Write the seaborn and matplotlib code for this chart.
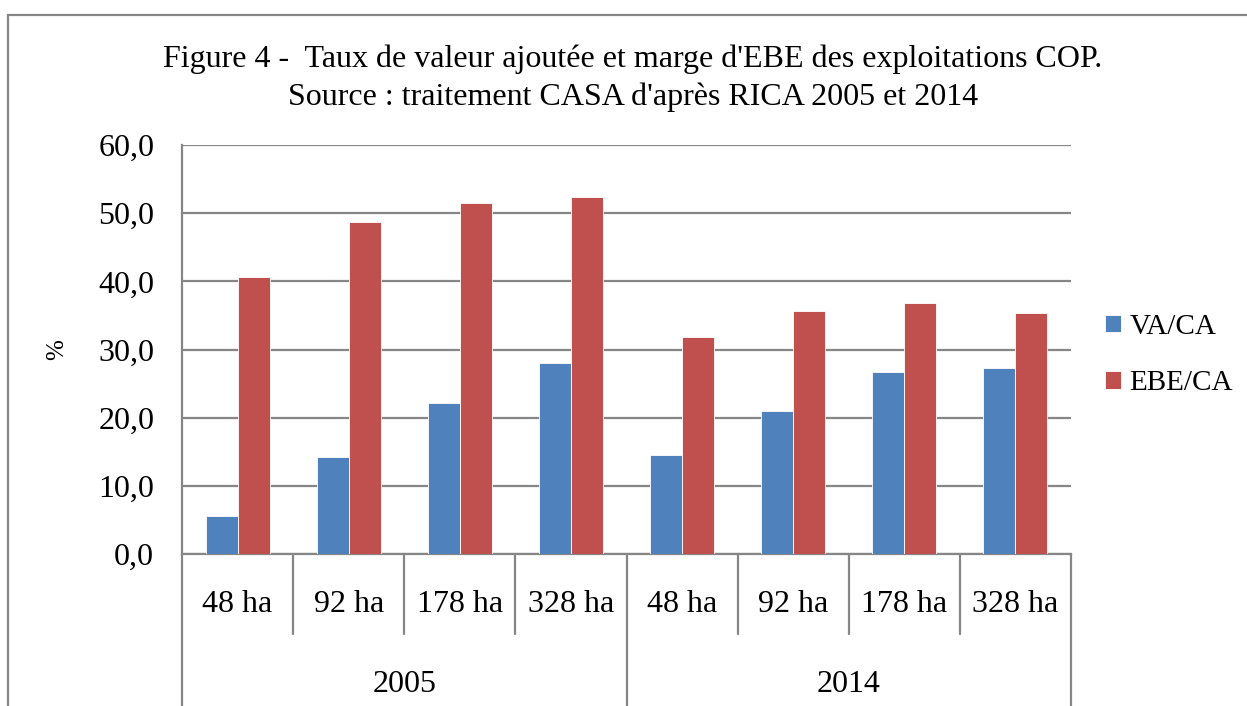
import matplotlib
matplotlib.use("Agg")
import matplotlib.pyplot as plt
import matplotlib.transforms as mtransforms
from matplotlib.patches import Rectangle
import seaborn as sns
import pandas as pd

years = ["2005", "2014"]
sizes = ["48 ha", "92 ha", "178 ha", "328 ha"]
series = ["VA/CA", "EBE/CA"]
va_ca = [5.6, 14.2, 22.1, 28.0, 14.5, 21.0, 26.7, 27.3]
ebe_ca = [40.7, 48.7, 51.5, 52.3, 31.8, 35.7, 36.8, 35.3]
yticks = [0, 10, 20, 30, 40, 50, 60]
ytick_labels = ["0,0", "10,0", "20,0", "30,0", "40,0", "50,0", "60,0"]
title = ("Figure 4 -  Taux de valeur ajoutée et marge d'EBE des exploitations COP.\n"
         "Source : traitement CASA d'après RICA 2005 et 2014")

colors = {"VA/CA": "#4F81BD", "EBE/CA": "#C0504D"}
grid_col = "#868686"

keys = [f"{y}|{s}" for y in years for s in sizes]
df = pd.DataFrame({
    "key": keys * 2,
    "serie": [series[0]] * len(keys) + [series[1]] * len(keys),
    "value": va_ca + ebe_ca,
})

sns.set_style("white")
plt.rcParams["font.family"] = ["Liberation Serif", "DejaVu Serif"]
plt.rcParams["text.color"] = "black"
plt.rcParams["axes.labelcolor"] = "black"
plt.rcParams["ytick.labelcolor"] = "black"

fig = plt.figure(figsize=(12.47, 7.06), dpi=100)
ax = fig.add_axes([182 / 1247, 1 - 554 / 706, (1071 - 182) / 1247, (554 - 145) / 706])

sns.barplot(data=df, x="key", y="value", hue="serie", order=keys, hue_order=series,
            palette=colors, width=0.575, gap=0, ax=ax, legend=True,
            edgecolor="white", linewidth=0.6, saturation=1, zorder=3)

ax.set_ylim(0, 60)
ax.set_xlim(-0.5, len(keys) - 0.5)
ax.set_yticks(yticks)
ax.set_yticklabels(ytick_labels, fontsize=23, color="black")
ax.set_xticks([])
ax.set_xlabel("")
ax.set_ylabel("%", fontsize=18, labelpad=22, color="black")
ax.yaxis.grid(True, color=grid_col, linewidth=1.6, zorder=0)
ax.set_axisbelow(True)
ax.tick_params(axis="y", direction="out", length=7, width=1.2, color=grid_col, pad=13)
for side in ["top", "right"]:
    ax.spines[side].set_visible(False)
for side in ["left", "bottom"]:
    ax.spines[side].set_color(grid_col)
    ax.spines[side].set_linewidth(1.6)

# multi-level category axis
trans = mtransforms.blended_transform_factory(ax.transData, ax.transAxes)
y_inner = -(634 - 554) / 409
y_outer = -(720 - 554) / 409
n = len(sizes)
for i in range(len(keys) + 1):
    x = i - 0.5
    yb = y_outer if i % n == 0 else y_inner
    ax.plot([x, x], [0, yb], transform=trans, color=grid_col, lw=1.6, clip_on=False)
for i, k in enumerate(keys):
    ax.text(i, -(604 - 554) / 409, k.split("|")[1], transform=trans, ha="center",
            va="center", fontsize=23, color="black")
for j, yr in enumerate(years):
    ax.text(j * n + (n - 1) / 2, -(684 - 554) / 409, yr, transform=trans, ha="center",
            va="center", fontsize=23, color="black")

fig.text(633 / 1247, 1 - 78 / 706, title, ha="center", va="center", fontsize=23,
         linespacing=1.38, color="black")

leg = ax.legend(loc="center left", bbox_to_anchor=(1090 / 1247, 1 - 355 / 706),
                bbox_transform=fig.transFigure, frameon=False, fontsize=21,
                handlelength=0.55, handleheight=0.55, handletextpad=0.3, labelspacing=1.05,
                borderpad=0)
for t in leg.get_texts():
    t.set_color("black")

fig.patches.append(Rectangle((8 / 1247, -0.05), 1.2, 1 - 15 / 706 + 0.05,
                             transform=fig.transFigure, fill=False,
                             edgecolor=grid_col, linewidth=1.6))

fig.savefig("out.png", dpi=100)
